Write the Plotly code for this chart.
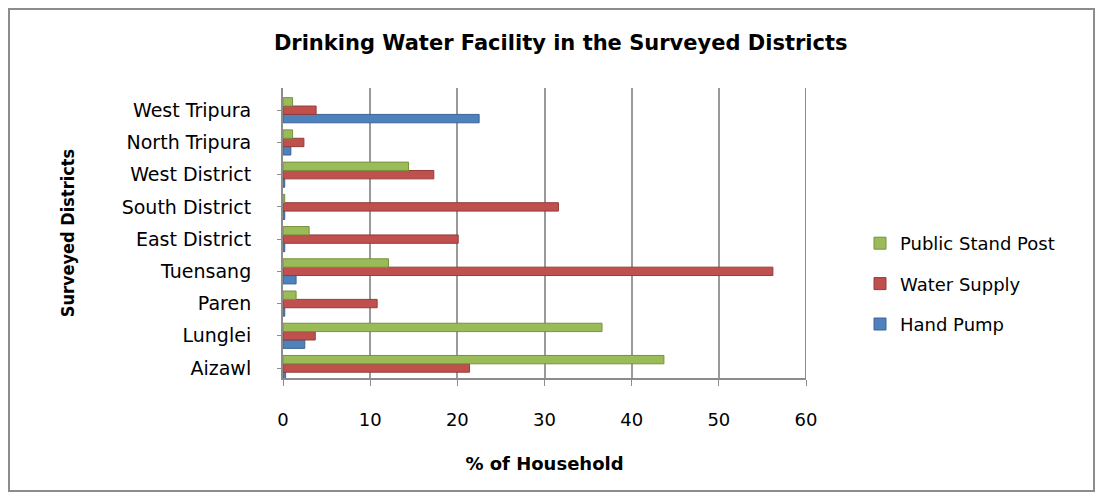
import plotly.graph_objects as go

# districts, bottom to top as drawn
districts = ["Aizawl", "Lunglei", "Paren", "Tuensang", "East District",
             "South District", "West District", "North Tripura", "West Tripura"]

hand_pump = [0.3, 2.5, 0.2, 1.5, 0.2, 0.2, 0.2, 0.9, 22.5]
water_supply = [21.4, 3.7, 10.8, 56.2, 20.1, 31.6, 17.3, 2.4, 3.8]
public_stand_post = [43.7, 36.6, 1.5, 12.1, 3.0, 0.2, 14.4, 1.1, 1.1]

x_ticks = [0, 10, 20, 30, 40, 50, 60]

font_main = "'DejaVu Sans', sans-serif"
font_cond = "'DejaVu Sans Condensed', 'DejaVu Sans', sans-serif"

# page body has an 8px margin, so the figure is a bit smaller than the window
W, H = 1088, 485
L, R, T, B = 275, 290, 80, 115
pw, ph = W - L - R, H - T - B

fig = go.Figure()
# first trace sits lowest in each group; legendrank puts it last in the legend
fig.add_trace(go.Bar(y=districts, x=hand_pump, name="Hand Pump", orientation="h",
                     marker=dict(color="#4F81BD", line=dict(color="#3A6496", width=1)),
                     legendgroup="hp", legendrank=3))
fig.add_trace(go.Bar(y=districts, x=water_supply, name="Water Supply", orientation="h",
                     marker=dict(color="#C0504D", line=dict(color="#943C3A", width=1)),
                     legendgroup="ws", legendrank=2))
fig.add_trace(go.Bar(y=districts, x=public_stand_post, name="Public Stand Post", orientation="h",
                     marker=dict(color="#9BBB59", line=dict(color="#76923C", width=1)),
                     legendgroup="psp", legendrank=1))

fig.update_layout(
    width=W, height=H,
    barmode="group", bargap=0.22, bargroupgap=0,
    paper_bgcolor="white", plot_bgcolor="white",
    margin=dict(l=L, r=R, t=T, b=B, autoexpand=False),
    font=dict(family=font_main, size=17, color="black"),
    title=dict(text="<b>Drinking Water Facility in the Surveyed Districts</b>",
               x=0.508, xanchor="center", y=0.928, yanchor="middle",
               font=dict(size=21, family=font_main)),
    xaxis=dict(range=[0, 60], tickvals=x_ticks, showgrid=True,
               gridcolor="#9A9A9A", gridwidth=2,
               showline=True, linecolor="#8C8C8C", linewidth=2,
               ticks="outside", tickcolor="#8C8C8C", ticklen=6,
               tickfont=dict(size=18), ticklabelstandoff=18,
               zeroline=False, mirror=False,
               title=dict(text="<b>% of Household</b>", standoff=29,
                          font=dict(size=18))),
    yaxis=dict(range=[-0.31, 8.69],
               showline=True, linecolor="#8C8C8C", linewidth=2,
               ticks="outside", tickcolor="#8C8C8C", ticklen=4,
               tickfont=dict(size=19), ticklabelstandoff=22,
               title=dict(text="<b>Surveyed Districts</b>", standoff=42,
                          font=dict(size=18, family=font_cond))),
    legend=dict(x=(852 - L) / pw, y=(H - B - 276) / ph, xanchor="left", yanchor="middle",
                traceorder="grouped", tracegroupgap=14,
                font=dict(size=18, family=font_main),
                bgcolor="rgba(0,0,0,0)"),
    showlegend=True,
)

# right wall line at 60
fig.add_shape(type="line", xref="x", yref="paper", x0=60, x1=60, y0=0, y1=1,
              line=dict(color="#8C8C8C", width=2))
# outer chart border
fig.add_shape(type="rect", xref="paper", yref="paper",
              x0=(1 - L) / pw, x1=(W - 2 - L) / pw,
              y0=(H - B - (H - 2)) / ph, y1=(H - B - 1) / ph,
              line=dict(color="#8C8C8C", width=2))

fig.write_html("out.html")
